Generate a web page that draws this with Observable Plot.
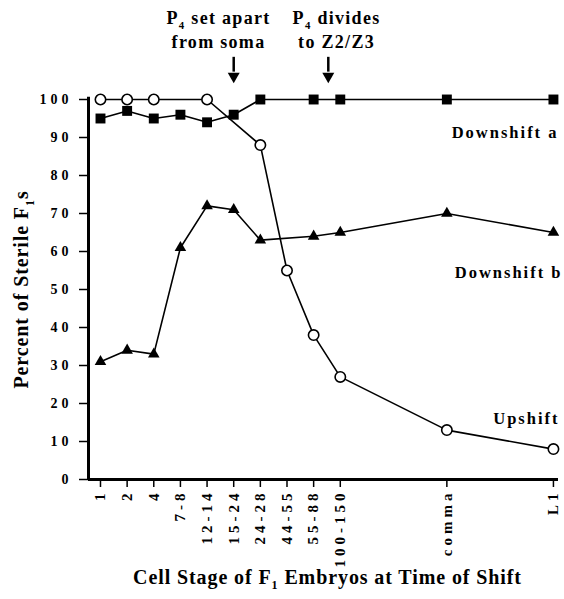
<!DOCTYPE html>
<html><head><meta charset="utf-8">
<script src="https://cdn.jsdelivr.net/npm/d3@7"></script>
<script src="https://cdn.jsdelivr.net/npm/@observablehq/plot@0.6"></script>
<style>
body{margin:0;background:#fff}
#chart svg, #chart svg text {font-family: "Liberation Serif", "Times New Roman", "DejaVu Serif", serif !important; font-weight: bold;}
svg g[aria-label="x-axis tick label"] text, svg g[aria-label="y-axis tick label"] text {letter-spacing:4px}
svg g[aria-description="series-label"] text {letter-spacing:2px}
svg g[aria-description="event-text"] text {letter-spacing:1.3px}
svg g[aria-description="axis-title"] text {letter-spacing:0.9px}
</style></head><body><div id="chart"></div>
<script>
// ---- data ----
const stages = ["1","2","4","7-8","12-14","15-24","24-28","44-55","55-88","100-150","comma","L1"];
const stagePos = [0,1,2,3,4,5,6,7,8,9,13,17];
const upshift    = [100,100,100,null,100,null,88,55,38,27,13,8];
const downshiftA = [95,97,95,96,94,96,100,null,100,100,100,100];
const downshiftB = [31,34,33,61,72,71,63,null,64,65,70,65];
const yTicks = [0,10,20,30,40,50,60,70,80,90,100];
const seriesNames = ["Downshift a","Downshift b","Upshift"];
const eventStage = [5, 8.55];
const eventLine1 = ["P₄ set apart","P₄ divides"];
const eventLine2 = ["from soma","to Z2/Z3"];
const yTitle = "Percent of Sterile F₁s";
const xTitle = "Cell Stage of F₁ Embryos at Time of Shift";

// ---- build tables ----
const rows = vals => stagePos.map((x,i)=>({x, y: vals[i]})).filter(d=>d.y!=null);
const up = rows(upshift), dA = rows(downshiftA), dB = rows(downshiftB);
const labelLayout = [
  {name: seriesNames[0], y: 91.3, dx: 0},
  {name: seriesNames[1], y: 54.5, dx: 4},
  {name: seriesNames[2], y: 16.0, dx: 1}
];
const textOffset = [-0.57, 0.31];
const events = eventStage.map((at,i)=>({at, tx: at + textOffset[i], l1: eventLine1[i], l2: eventLine2[i]}));

const xDomain = [-0.45, 17.19];
const downTriangle = {draw(ctx, size){ const w = Math.sqrt(size*4/Math.sqrt(3)); const h = w*Math.sqrt(3)/2; ctx.moveTo(-w/2,-h/3); ctx.lineTo(w/2,-h/3); ctx.lineTo(0,2*h/3); ctx.closePath(); }};

const chart = Plot.plot({
  width: 564, height: 599,
  marginLeft: 88, marginRight: 6, marginTop: 99, marginBottom: 120,
  style: {fontWeight: "bold", color: "black", background: "white", overflow: "visible"},
  x: {type: "linear", domain: xDomain},
  y: {domain: [0,100]},
  marks: [
    Plot.axisY({ticks: yTicks, tickSize: 9, tickPadding: 7, tickFormat: d=>String(d), fontSize: 14, label: null, strokeWidth: 1.5}),
    Plot.axisX({ticks: stagePos, tickFormat: d=>stages[stagePos.indexOf(d)], tickRotate: -90, tickSize: 8, tickPadding: 2, fontSize: 15, label: null, strokeWidth: 1.5}),
    Plot.ruleY([0], {x1: xDomain[0], x2: xDomain[1], strokeWidth: 3}),
    Plot.ruleX([xDomain[0]], {y1: 0, y2: 100.6, strokeWidth: 3}),
    Plot.line(dB, {x: "x", y: "y", stroke: "black", strokeWidth: 1.6}),
    Plot.line(dA, {x: "x", y: "y", stroke: "black", strokeWidth: 1.6}),
    Plot.line(up, {x: "x", y: "y", stroke: "black", strokeWidth: 1.6}),
    Plot.dot(dB, {x: "x", y: "y", symbol: "triangle", r: 4.3, fill: "black"}),
    Plot.dot(dA, {x: "x", y: "y", symbol: "square", r: 5.6, fill: "black"}),
    Plot.dot(up, {x: "x", y: "y", symbol: "circle", r: 5.2, fill: "white", stroke: "black", strokeWidth: 1.6}),
    ...labelLayout.map(l => Plot.text([l], {y: "y", text: "name", frameAnchor: "right", textAnchor: "end", dx: l.dx, fontSize: 16.5, ariaDescription: "series-label"})),
    Plot.ruleX(events, {x: "at", y1: 107.2, y2: 111.1, strokeWidth: 2.5}),
    Plot.dot(events, {x: "at", y: 106.1, symbol: downTriangle, r: 4.45, fill: "black"}),
    Plot.text(events, {x: "tx", y: 121.5, text: "l1", fontSize: 18, ariaDescription: "event-text"}),
    Plot.text(events, {x: "tx", y: 115.2, text: "l2", fontSize: 18, ariaDescription: "event-text"}),
    Plot.text([yTitle], {frameAnchor: "left", textAnchor: "middle", dx: -67, rotate: -90, fontSize: 20, ariaDescription: "axis-title"}),
    Plot.text([xTitle], {frameAnchor: "bottom", textAnchor: "middle", dx: 4, dy: 104, fontSize: 20, ariaDescription: "axis-title"})
  ]
});
document.getElementById("chart").appendChild(chart);

// subscripts
const subMap = {"₀":"0","₁":"1","₂":"2","₃":"3","₄":"4","₅":"5","₆":"6","₇":"7","₈":"8","₉":"9"};
d3.select(chart).selectAll("text").each(function(){
  const t = this.textContent;
  if (!/[₀-₉]/.test(t)) return;
  const fs = parseFloat(getComputedStyle(this).fontSize) || 16;
  const shift = fs*0.28;
  const el = d3.select(this);
  el.text(null);
  let shifted = false;
  t.split(/([₀-₉]+)/).forEach(p=>{
    if (!p) return;
    if (/[₀-₉]/.test(p)) {
      el.append("tspan").attr("dy", shift).attr("font-size", fs*0.6).text(p.replace(/./g, c=>subMap[c]));
      shifted = true;
    } else {
      const ts = el.append("tspan").text(p);
      if (shifted) { ts.attr("dy", -shift); shifted = false; }
    }
  });
});
</script></body></html>
